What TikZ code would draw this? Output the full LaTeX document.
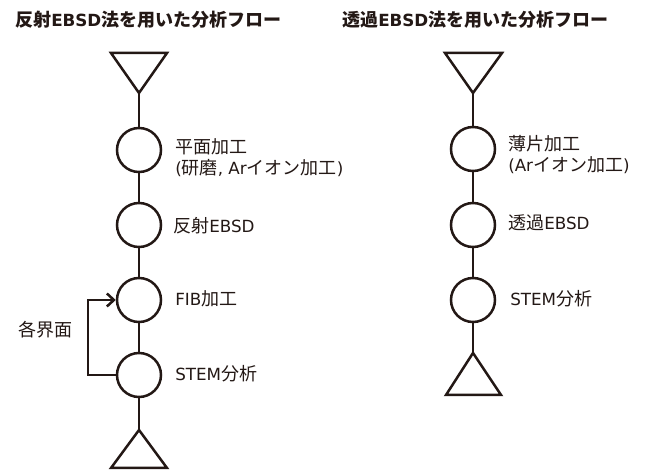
\documentclass[tikz,border=0pt]{standalone}
\usepackage{fontspec}
\setmainfont{Noto Sans CJK JP}
\newfontfamily\lat[Scale=0.93]{DejaVu Sans}
\usetikzlibrary{arrows.meta}
\definecolor{ink}{HTML}{231815}
\begin{document}
\begin{tikzpicture}[x=1pt,y=-1pt,
  line width=2.5pt, draw=ink,
  stepcirc/.style={circle, draw=ink, line width=2.5pt, minimum size=44pt, inner sep=0pt},
  lbl/.style={anchor=west, text=ink, font=\fontsize{18}{21}\selectfont, inner sep=0pt, align=left},
  ttl/.style={anchor=west, text=ink, font=\fontsize{18}{21}\selectfont\bfseries, inner sep=0pt},
  conn/.style={draw=ink, line width=2.5pt},
  tri/.style={draw=ink, line width=2.5pt, line join=miter}]
\useasboundingbox (0,0) rectangle (646,470);

% titles
\node[ttl] (t1) at (14,20) {反射{\lat EBSD}法を用いた分析フロー};
\node[ttl] (t2) at (341,20) {透過{\lat EBSD}法を用いた分析フロー};

% ---- left flow ----
\coordinate (la) at (139,93);
\draw[tri] (111,53) -- (167,53) -- (la) -- cycle;
\node[stepcirc] (l1) at (139,150) {};
\node[stepcirc] (l2) at (139,225) {};
\node[stepcirc] (l3) at (139,300) {};
\node[stepcirc] (l4) at (139,375) {};
\coordinate (lb) at (139,430);
\draw[tri] (lb) -- (167,468) -- (111,468) -- cycle;
\draw[conn] (la) -- (l1);
\draw[conn] (l1) -- (l2);
\draw[conn] (l2) -- (l3);
\draw[conn] (l3) -- (l4);
\draw[conn] (l4) -- (lb);

\node[lbl] (ll1) at (174,158) {平面加工\\{\lat(}研磨{\lat, Ar}イオン加工{\lat)}};
\node[lbl] (ll2) at (172,226) {反射{\lat EBSD}};
\node[lbl] (ll3) at (174,299) {{\lat FIB}加工};
\node[lbl] (ll4) at (174,374) {{\lat STEM}分析};

% loop
\coordinate (lp) at (88,375);
\draw[conn, -{Straight Barb[length=7pt,width=13pt]}] (l4.west) -- (lp) |- (l3.west);
\node[lbl, anchor=center] (lbl5) at (46,330) {各界面};

% ---- right flow ----
\coordinate (ra) at (473,93);
\draw[tri] (445,53) -- (502,53) -- (ra) -- cycle;
\node[stepcirc] (r1) at (473,149) {};
\node[stepcirc] (r2) at (473,225) {};
\node[stepcirc] (r3) at (473,300) {};
\coordinate (rb) at (473,353);
\draw[tri] (rb) -- (501,395) -- (446,395) -- cycle;
\draw[conn] (ra) -- (r1);
\draw[conn] (r1) -- (r2);
\draw[conn] (r2) -- (r3);
\draw[conn] (r3) -- (rb);

\node[lbl] (rl1) at (507,155) {薄片加工\\{\lat(Ar}イオン加工{\lat)}};
\node[lbl] (rl2) at (507,223) {透過{\lat EBSD}};
\node[lbl] (rl3) at (509,299) {{\lat STEM}分析};
\end{tikzpicture}
\end{document}
